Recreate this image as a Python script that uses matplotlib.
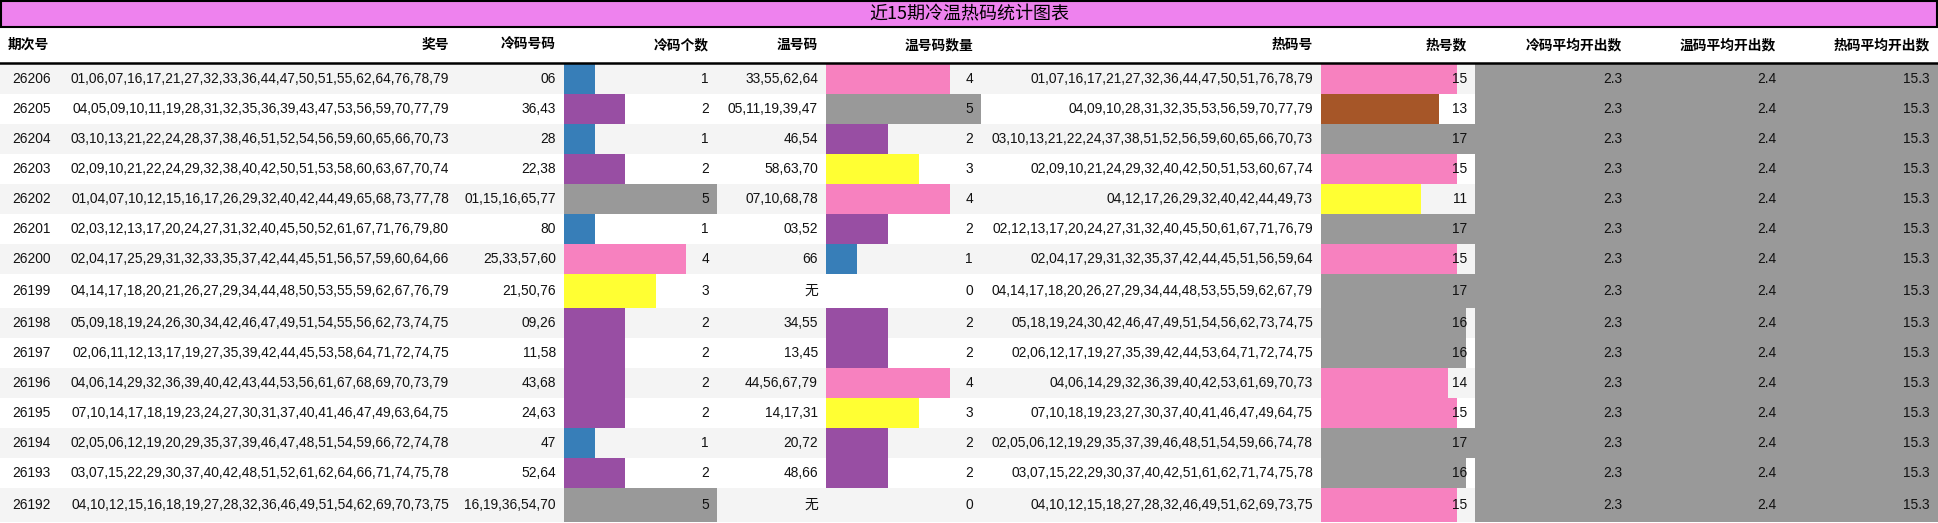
import matplotlib
matplotlib.use("Agg")
import matplotlib.pyplot as plt
from matplotlib.patches import Rectangle

plt.rcParams['font.family'] = ['Liberation Sans', 'Noto Sans CJK SC', 'DejaVu Sans']

title = "近15期冷温热码统计图表"
headers = ["期次号", "奖号", "冷码号码", "冷码个数", "温号码", "温号码数量", "热码号", "热号数",
           "冷码平均开出数", "温码平均开出数", "热码平均开出数"]
periods = ["26206", "26205", "26204", "26203", "26202", "26201", "26200", "26199",
           "26198", "26197", "26196", "26195", "26194", "26193", "26192"]
draws = [
    "01,06,07,16,17,21,27,32,33,36,44,47,50,51,55,62,64,76,78,79",
    "04,05,09,10,11,19,28,31,32,35,36,39,43,47,53,56,59,70,77,79",
    "03,10,13,21,22,24,28,37,38,46,51,52,54,56,59,60,65,66,70,73",
    "02,09,10,21,22,24,29,32,38,40,42,50,51,53,58,60,63,67,70,74",
    "01,04,07,10,12,15,16,17,26,29,32,40,42,44,49,65,68,73,77,78",
    "02,03,12,13,17,20,24,27,31,32,40,45,50,52,61,67,71,76,79,80",
    "02,04,17,25,29,31,32,33,35,37,42,44,45,51,56,57,59,60,64,66",
    "04,14,17,18,20,21,26,27,29,34,44,48,50,53,55,59,62,67,76,79",
    "05,09,18,19,24,26,30,34,42,46,47,49,51,54,55,56,62,73,74,75",
    "02,06,11,12,13,17,19,27,35,39,42,44,45,53,58,64,71,72,74,75",
    "04,06,14,29,32,36,39,40,42,43,44,53,56,61,67,68,69,70,73,79",
    "07,10,14,17,18,19,23,24,27,30,31,37,40,41,46,47,49,63,64,75",
    "02,05,06,12,19,20,29,35,37,39,46,47,48,51,54,59,66,72,74,78",
    "03,07,15,22,29,30,37,40,42,48,51,52,61,62,64,66,71,74,75,78",
    "04,10,12,15,16,18,19,27,28,32,36,46,49,51,54,62,69,70,73,75",
]
cold_codes = ["06", "36,43", "28", "22,38", "01,15,16,65,77", "80", "25,33,57,60", "21,50,76",
              "09,26", "11,58", "43,68", "24,63", "47", "52,64", "16,19,36,54,70"]
cold_count = [1, 2, 1, 2, 5, 1, 4, 3, 2, 2, 2, 2, 1, 2, 5]
warm_codes = ["33,55,62,64", "05,11,19,39,47", "46,54", "58,63,70", "07,10,68,78", "03,52", "66", "无",
              "34,55", "13,45", "44,56,67,79", "14,17,31", "20,72", "48,66", "无"]
warm_count = [4, 5, 2, 3, 4, 2, 1, 0, 2, 2, 4, 3, 2, 2, 0]
hot_codes = [
    "01,07,16,17,21,27,32,36,44,47,50,51,76,78,79",
    "04,09,10,28,31,32,35,53,56,59,70,77,79",
    "03,10,13,21,22,24,37,38,51,52,56,59,60,65,66,70,73",
    "02,09,10,21,24,29,32,40,42,50,51,53,60,67,74",
    "04,12,17,26,29,32,40,42,44,49,73",
    "02,12,13,17,20,24,27,31,32,40,45,50,61,67,71,76,79",
    "02,04,17,29,31,32,35,37,42,44,45,51,56,59,64",
    "04,14,17,18,20,26,27,29,34,44,48,53,55,59,62,67,79",
    "05,18,19,24,30,42,46,47,49,51,54,56,62,73,74,75",
    "02,06,12,17,19,27,35,39,42,44,53,64,71,72,74,75",
    "04,06,14,29,32,36,39,40,42,53,61,69,70,73",
    "07,10,18,19,23,27,30,37,40,41,46,47,49,64,75",
    "02,05,06,12,19,29,35,37,39,46,48,51,54,59,66,74,78",
    "03,07,15,22,29,30,37,40,42,51,61,62,71,74,75,78",
    "04,10,12,15,18,27,28,32,46,49,51,62,69,73,75",
]
hot_count = [15, 13, 17, 15, 11, 17, 15, 17, 16, 16, 14, 15, 17, 16, 15]
cold_avg = [2.3] * 15
warm_avg = [2.4] * 15
hot_avg = [15.3] * 15

count_colors = {1: "#377eb8", 2: "#984ea3", 3: "#ffff33", 4: "#f781bf", 5: "#999999"}
hot_colors = {11: "#ffff33", 13: "#a65628", 14: "#f781bf", 15: "#f781bf", 16: "#999999", 17: "#999999"}

W, H = 1938, 523
fig = plt.figure(figsize=(W / 100, H / 100), dpi=100)
ax = fig.add_axes([0, 0, 1, 1])
ax.set_xlim(0, W)
ax.set_ylim(H, 0)
ax.axis("off")

edges = [0, 60, 457, 564, 717, 826, 981, 1321, 1475, 1630, 1784, 1938]
FS = 9.9

ax.add_patch(Rectangle((1, 1), W - 2, 26, facecolor="#ee82ee", edgecolor="black", lw=1.5))
ax.text(W / 2, 14, title, ha="center", va="center", fontsize=13, family=["Noto Sans CJK SC"])

hy = 45
for i, h in enumerate(headers):
    if i == 0:
        ax.text(edges[0] + 8, hy, h, ha="left", va="center", fontsize=FS, fontweight="bold",
                family=["Noto Sans CJK SC"])
    else:
        ax.text(edges[i + 1] - 8, hy, h, ha="right", va="center", fontsize=FS, fontweight="bold",
                family=["Noto Sans CJK SC"])
ax.plot([0, W], [63, 63], color="black", lw=1.8)

y = 64
for r in range(len(periods)):
    rh = 34 if "无" in warm_codes[r] else 30
    bg = "#f4f4f4" if r % 2 == 0 else "white"
    ax.add_patch(Rectangle((0, y), W, rh, facecolor=bg, edgecolor="none"))
    cy = y + rh / 2

    def bar(ci, val, vmax, color):
        x0, x1 = edges[ci], edges[ci + 1]
        w = (x1 - x0) * min(val / vmax, 1.0)
        if w > 0:
            ax.add_patch(Rectangle((x0, y), w, rh, facecolor=color, edgecolor="none"))

    bar(3, cold_count[r], 5, count_colors.get(cold_count[r], "#999999"))
    bar(5, warm_count[r], 5, count_colors.get(warm_count[r], "#999999"))
    bar(7, hot_count[r], 17, hot_colors.get(hot_count[r], "#999999"))
    bar(8, cold_avg[r], max(cold_avg), "#999999")
    bar(9, warm_avg[r], max(warm_avg), "#999999")
    bar(10, hot_avg[r], max(hot_avg), "#999999")

    vals = [periods[r], draws[r], cold_codes[r], str(cold_count[r]), warm_codes[r],
            str(warm_count[r]), hot_codes[r], str(hot_count[r]),
            f"{cold_avg[r]:.1f}", f"{warm_avg[r]:.1f}", f"{hot_avg[r]:.1f}"]
    for i, v in enumerate(vals):
        kw = {"family": ["Noto Sans CJK SC"]} if v == "无" else {}
        right = edges[i + 1] - (9 if i == 0 else 8)
        ax.text(right, cy, v, ha="right", va="center", fontsize=FS, color="#111111", **kw)
    y += rh

fig.savefig("out.png", dpi=100)
